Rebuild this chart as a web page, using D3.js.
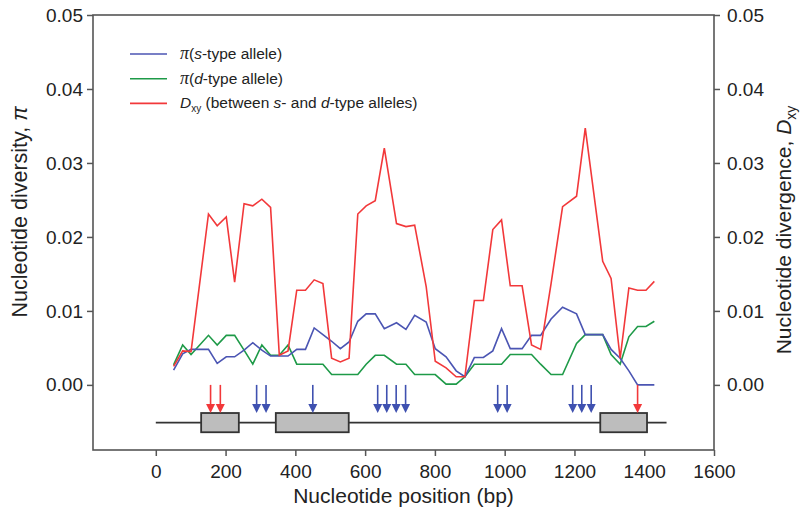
<!DOCTYPE html>
<html><head><meta charset="utf-8">
<script src="https://cdn.jsdelivr.net/npm/d3@7"></script>
<style>
body{margin:0;background:#fff;}
text{font-family:"Liberation Sans",Arial,Helvetica,sans-serif;fill:#222;}
</style></head>
<body><svg id="c" width="803" height="517"></svg>
<script>
// window positions (bp)
const positions = [51,77,101,151,176,202,226,253,278,304,329,354,379,404,429,454,479,504,529,554,579,603,629,655,690,717,742,775,801,832,861,886,913,939,966,991,1016,1050,1077,1103,1133,1166,1206,1231,1281,1305,1331,1356,1381,1405,1429];
const dxy = [0.0025,0.0046,0.0045,0.0231,0.0215,0.0227,0.0139,0.0245,0.0242,0.0251,0.0240,0.0040,0.0046,0.0128,0.0128,0.0142,0.0137,0.0036,0.0031,0.0036,0.0231,0.0242,0.0249,0.0320,0.0218,0.0214,0.0216,0.0133,0.0032,0.0023,0.0011,0.0011,0.0114,0.0114,0.0210,0.0223,0.0134,0.0134,0.0054,0.0048,0.0137,0.0241,0.0255,0.0347,0.0167,0.0144,0.0036,0.0131,0.0128,0.0128,0.0140];
const piS = [0.0020,0.0042,0.0048,0.0048,0.0029,0.0038,0.0038,0.0047,0.0057,0.0047,0.0039,0.0039,0.0039,0.0048,0.0048,0.0077,0.0068,0.0059,0.0049,0.0058,0.0086,0.0096,0.0096,0.0076,0.0084,0.0075,0.0094,0.0085,0.0049,0.0038,0.0019,0.0011,0.0037,0.0037,0.0046,0.0076,0.0049,0.0049,0.0067,0.0067,0.0089,0.0105,0.0096,0.0068,0.0068,0.0048,0.0036,0.0019,0.0000,0.0000,0.0000];
const piD = [0.0027,0.0054,0.0041,0.0067,0.0054,0.0067,0.0067,0.0047,0.0028,0.0054,0.0040,0.0040,0.0054,0.0028,0.0028,0.0028,0.0028,0.0014,0.0014,0.0014,0.0014,0.0028,0.0040,0.0040,0.0028,0.0028,0.0014,0.0014,0.0014,0.0001,0.0001,0.0011,0.0028,0.0028,0.0028,0.0028,0.0041,0.0041,0.0041,0.0028,0.0014,0.0014,0.0056,0.0068,0.0068,0.0041,0.0028,0.0065,0.0079,0.0079,0.0086];
const yTicks = [0.00,0.01,0.02,0.03,0.04,0.05];
const xTicks = [0,200,400,600,800,1000,1200,1400,1600];
// gene structure
const geneSpan = [0,1464];
const exons = [[130,238],[344,553],[1274,1408]];
const redArrows = [157,185,1381];
const blueArrows = [289,316,450,636,662,689,716,980,1007,1195,1221,1248];

const COL = {blue:"#4b55b3", green:"#1e9a48", red:"#f2383a", arrowBlue:"#3f51b0"};

const svg = d3.select("#c");
const L=93,R=714,T=15,B=450;
const x = d3.scaleLinear().domain([-180,1600]).range([L,R]);
const y = d3.scaleLinear().domain([-0.0088,0.05]).range([B,T]);

// frame
svg.append("rect").attr("x",L).attr("y",T).attr("width",R-L).attr("height",B-T)
  .attr("fill","none").attr("stroke","#555").attr("stroke-width",1.6);

function styleAxis(g){
  g.select(".domain").remove();
  g.selectAll(".tick line").attr("stroke","#555").attr("stroke-width",1.5);
  g.selectAll(".tick text").style("font-size","19px").attr("fill","#222");
}
svg.append("g").attr("transform",`translate(${L},0)`)
  .call(d3.axisLeft(y).tickValues(yTicks).tickFormat(d3.format(".2f")).tickSize(6).tickPadding(4)).call(styleAxis);
svg.append("g").attr("transform",`translate(${R},0)`)
  .call(d3.axisRight(y).tickValues(yTicks).tickFormat(d3.format(".2f")).tickSize(6).tickPadding(7)).call(styleAxis);
svg.append("g").attr("transform",`translate(0,${B})`)
  .call(d3.axisBottom(x).tickValues(xTicks).tickFormat(d3.format("d")).tickSize(6).tickPadding(9)).call(styleAxis);

// lines
const line = vals => d3.line().x((d,i)=>x(positions[i])).y(d=>y(d))(vals);
[[piD,COL.green],[piS,COL.blue],[dxy,COL.red]].forEach(([v,c])=>{
  svg.append("path").attr("d",line(v)).attr("fill","none").attr("stroke",c).attr("stroke-width",1.6).attr("stroke-linejoin","miter");
});

// gene structure
const yc = y(-0.0051), yTop = y(-0.0038), yBot = y(-0.0064);
svg.append("line").attr("x1",x(geneSpan[0])).attr("x2",x(geneSpan[1])).attr("y1",yc).attr("y2",yc)
  .attr("stroke","#333").attr("stroke-width",1.8);
svg.selectAll("rect.exon").data(exons).enter().append("rect").attr("class","exon")
  .attr("x",d=>x(d[0])).attr("width",d=>x(d[1])-x(d[0])).attr("y",yTop).attr("height",yBot-yTop)
  .attr("fill","#bdbdbd").attr("stroke","#333").attr("stroke-width",1.8);

// arrows
function arrow(bp,col){
  const ax=x(bp), y0=y(0), y1=yTop;
  svg.append("line").attr("x1",ax).attr("x2",ax).attr("y1",y0).attr("y2",y1-6).attr("stroke",col).attr("stroke-width",1.6);
  svg.append("path").attr("d",`M${ax-4.5},${y1-9}L${ax+4.5},${y1-9}L${ax},${y1}Z`).attr("fill",col);
}
redArrows.forEach(b=>arrow(b,COL.red));
blueArrows.forEach(b=>arrow(b,COL.arrowBlue));

// legend
const leg = [
  {c:COL.blue, parts:[["π","serif-it"],["(",""],["s","it"],["-type allele)",""]]},
  {c:COL.green, parts:[["π","serif-it"],["(",""],["d","it"],["-type allele)",""]]},
  {c:COL.red, parts:[["D","it"],["xy","sub"],[" (between ",""],["s","it"],["- and ",""],["d","it"],["-type alleles)",""]]}
];
leg.forEach((e,i)=>{
  const ly = 54 + i*24.7;
  svg.append("line").attr("x1",130).attr("x2",167).attr("y1",ly).attr("y2",ly).attr("stroke",e.c).attr("stroke-width",1.6);
  const t = svg.append("text").attr("x",180).attr("y",ly+5).style("font-size","15.5px");
  e.parts.forEach(([s,k])=>{
    const ts = t.append("tspan").text(s);
    if(k==="it") ts.style("font-style","italic");
    if(k==="serif-it") ts.style("font-family","'Liberation Serif','Times New Roman',serif").style("font-style","italic").style("font-size","18px").attr("dx",0);
    if(k==="sub"){ ts.style("font-size","10px").attr("dy",4); }
    else if(e.parts.some(p=>p[1]==="sub") && t.selectAll("tspan").size()===3){ ts.attr("dy",-4); }
  });
});

// axis titles
const lt = svg.append("text").attr("transform","translate(27,212) rotate(-90)").attr("text-anchor","middle").style("font-size","21.5px");
lt.append("tspan").text("Nucleotide diversity, ");
lt.append("tspan").text("π").style("font-style","italic");

const rt = svg.append("text").attr("transform","translate(791,230) rotate(-90)").attr("text-anchor","middle").style("font-size","21px");
rt.append("tspan").text("Nucleotide divergence, ");
rt.append("tspan").text("D").style("font-style","italic");
rt.append("tspan").text("xy").style("font-size","14px").attr("dy",5);

svg.append("text").attr("x",(L+R)/2).attr("y",503).attr("text-anchor","middle").style("font-size","21px")
  .text("Nucleotide position (bp)");
</script></body></html>
